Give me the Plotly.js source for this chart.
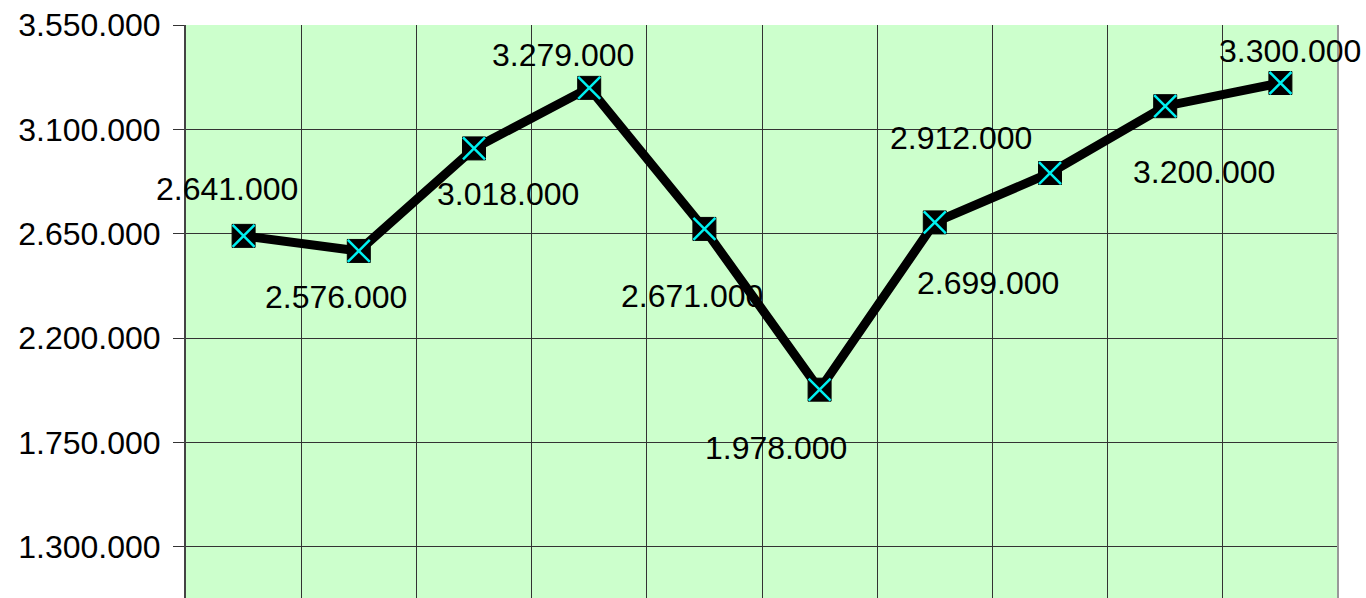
<!DOCTYPE html>
<html>
<head>
<meta charset="utf-8">
<script src="https://cdn.plot.ly/plotly-3.0.1.min.js"></script>
<style>
html,body{margin:0;padding:0;background:#fff;overflow:hidden;}
#chart{width:1366px;height:598px;}
</style>
</head>
<body>
<div id="chart"></div>
<script>
// Data
const categories = ['1','2','3','4','5','6','7','8','9','10'];
const values = [2641000, 2576000, 3018000, 3279000, 2671000, 1978000, 2699000, 2912000, 3200000, 3300000];
const yTicks = [1300000, 1750000, 2200000, 2650000, 3100000, 3550000];
// label offsets (pixels) relative to each point
const labelDx = [-17, -23, 34, -26, -12, -44, 53, -89, 39, 10];
const labelDy = [47, -46, -46, 33, -67, -58, -61, 35, -66, 32];

function fmt(v){ return String(v).replace(/\B(?=(\d{3})+(?!\d))/g, '.'); }

const lineTrace = {
  x: categories, y: values, type: 'scatter', mode: 'lines',
  line: {color: '#000000', width: 9}, hoverinfo: 'skip', showlegend: false
};
const sqTrace = {
  x: categories, y: values, type: 'scatter', mode: 'markers',
  marker: {symbol: 'square', size: 23, color: '#000000', line: {color: '#000000', width: 1}},
  hoverinfo: 'skip', showlegend: false
};
const xTrace = {
  x: categories, y: values, type: 'scatter', mode: 'markers',
  marker: {symbol: 'x-thin', size: 22, color: '#00F0F0', line: {color: '#00F0F0', width: 2.5}},
  hoverinfo: 'skip', showlegend: false
};

const annotations = categories.map((c, i) => ({
  x: i, y: values[i], xref: 'x', yref: 'y',
  text: fmt(values[i]), showarrow: false,
  xshift: labelDx[i], yshift: labelDy[i],
  font: {family: 'Liberation Sans, Arial, sans-serif', size: 32, color: '#000000'}
}));

const layout = {
  width: 1366, height: 598,
  margin: {l: 186, r: 28, t: 25, b: 0, pad: 0},
  paper_bgcolor: '#ffffff',
  plot_bgcolor: '#CCFFCC',
  separators: ',.',
  showlegend: false,
  font: {family: 'Liberation Sans, Arial, sans-serif', size: 32, color: '#000000'},
  xaxis: {
    type: 'category', range: [-0.5, 9.5],
    tickson: 'boundaries', showgrid: true, gridcolor: '#333333', gridwidth: 1,
    showticklabels: false, ticks: '', zeroline: false, showline: false
  },
  yaxis: {
    range: [1080000, 3550000],
    tickvals: yTicks, ticktext: yTicks.map(fmt),
    showgrid: true, gridcolor: '#333333', gridwidth: 1,
    ticks: 'outside', ticklen: 11, tickcolor: '#333333', tickwidth: 1,
    showline: true, linecolor: '#444444', linewidth: 2,
    zeroline: false, ticklabelstandoff: 6,
    tickfont: {family: 'Liberation Sans, Arial, sans-serif', size: 32, color: '#000000'}
  },
  shapes: [
    {type: 'line', xref: 'paper', yref: 'paper', x0: 1, x1: 1, y0: 0, y1: 1,
     line: {color: '#999999', width: 2}}
  ],
  annotations: annotations
};

Plotly.newPlot('chart', [lineTrace, sqTrace, xTrace], layout, {staticPlot: true, displayModeBar: false});
</script>
</body>
</html>
